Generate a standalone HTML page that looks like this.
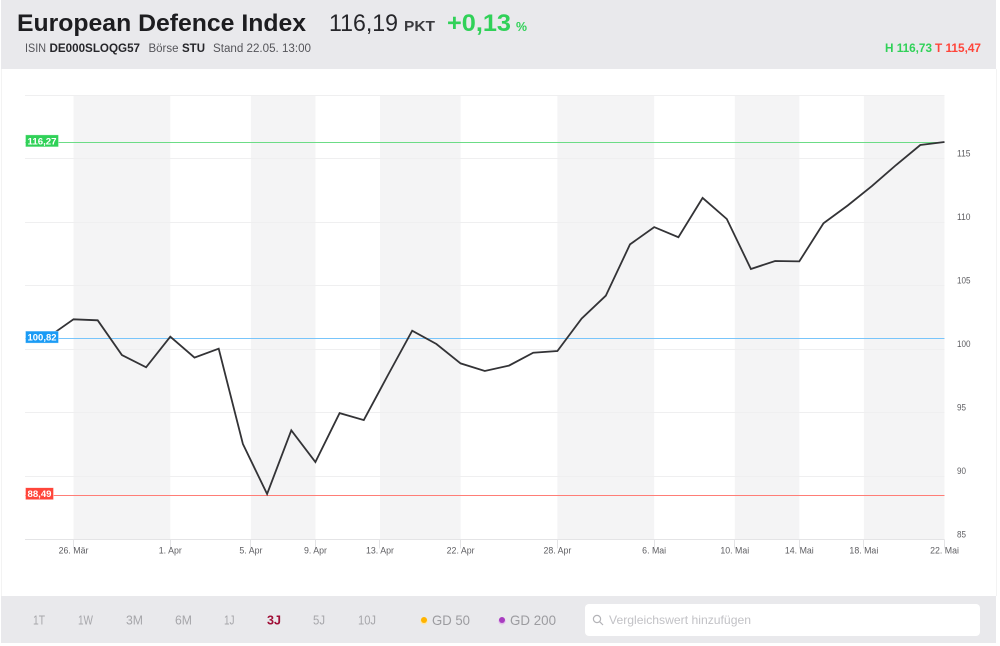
<!DOCTYPE html>
<html lang="de">
<head>
<meta charset="utf-8">
<title>European Defence Index</title>
<style>
html,body{margin:0;padding:0;background:#fff;width:1000px;height:646px;overflow:hidden}
svg{display:block;font-family:"Liberation Sans",sans-serif}
</style>
</head>
<body>
<svg id="root" width="1000" height="646" viewBox="0 0 1000 646">
  <rect x="1" y="0" width="996" height="646" fill="#fff" stroke="none"/>
  <line x1="1.5" y1="69" x2="1.5" y2="596" stroke="#f3f3f3"/>
  <line x1="996.5" y1="69" x2="996.5" y2="596" stroke="#f3f3f3"/>

  <g>
    <rect x="1" y="0" width="995" height="69" fill="#e9e9ec"/>
    <text x="17" y="31" font-size="24" font-weight="700" fill="#1d1d20" textLength="289" lengthAdjust="spacingAndGlyphs">European Defence Index</text>
    <text x="329" y="31" font-size="24" fill="#26262a" textLength="69" lengthAdjust="spacingAndGlyphs">116,19</text>
    <text x="404" y="31" font-size="15" font-weight="700" fill="#3a3a3e" textLength="31" lengthAdjust="spacingAndGlyphs">PKT</text>
    <text x="447" y="31" font-size="24" font-weight="700" fill="#30d158" textLength="64" lengthAdjust="spacingAndGlyphs">+0,13</text>
    <text x="516" y="31" font-size="13" font-weight="700" fill="#30d158" textLength="11" lengthAdjust="spacingAndGlyphs">%</text>

    <text x="25" y="52" font-size="11.5" fill="#55555a" textLength="21" lengthAdjust="spacingAndGlyphs">ISIN</text>
    <text x="49.5" y="52" font-size="11.5" font-weight="700" fill="#26262a" textLength="90.5" lengthAdjust="spacingAndGlyphs">DE000SLOQG57</text>
    <text x="148.5" y="52" font-size="11.5" fill="#55555a" textLength="30" lengthAdjust="spacingAndGlyphs">Börse</text>
    <text x="182" y="52" font-size="11.5" font-weight="700" fill="#26262a" textLength="23" lengthAdjust="spacingAndGlyphs">STU</text>
    <text x="213" y="52" font-size="11.5" fill="#55555a" textLength="98" lengthAdjust="spacingAndGlyphs">Stand 22.05. 13:00</text>

    <text x="885" y="52" font-size="11.5" font-weight="700" fill="#30d158" textLength="47" lengthAdjust="spacingAndGlyphs">H 116,73</text>
    <text x="935" y="52" font-size="11.5" font-weight="700" fill="#ff453a" textLength="46" lengthAdjust="spacingAndGlyphs">T 115,47</text>
  </g>

  <g id="plot"></g>

  <g>
    <rect x="1" y="596" width="995" height="47" fill="#e9e9ec"/>
    <g font-size="13" fill="#a6a6aa">
      <text x="33" y="624.5" textLength="12" lengthAdjust="spacingAndGlyphs">1T</text>
      <text x="78" y="624.5" textLength="15" lengthAdjust="spacingAndGlyphs">1W</text>
      <text x="126" y="624.5" textLength="17" lengthAdjust="spacingAndGlyphs">3M</text>
      <text x="175" y="624.5" textLength="17" lengthAdjust="spacingAndGlyphs">6M</text>
      <text x="224" y="624.5" textLength="10.5" lengthAdjust="spacingAndGlyphs">1J</text>
      <text x="267" y="624.5" font-weight="700" fill="#a00f37" textLength="14" lengthAdjust="spacingAndGlyphs">3J</text>
      <text x="313" y="624.5" textLength="12" lengthAdjust="spacingAndGlyphs">5J</text>
      <text x="358" y="624.5" textLength="18" lengthAdjust="spacingAndGlyphs">10J</text>
    </g>
    <g>
      <circle cx="424" cy="621" r="3.6" fill="#ffe6a8"/>
      <circle cx="424" cy="620" r="3" fill="#ffb400"/>
      <text x="432" y="625" font-size="14" fill="#9c9ca0" textLength="38" lengthAdjust="spacingAndGlyphs">GD 50</text>
    </g>
    <g>
      <circle cx="502" cy="621" r="3.6" fill="#e2bdea"/>
      <circle cx="502" cy="620" r="3" fill="#a83cc0"/>
      <text x="510" y="625" font-size="14" fill="#9c9ca0" textLength="46" lengthAdjust="spacingAndGlyphs">GD 200</text>
    </g>
    <g>
      <rect x="585" y="604" width="395" height="32" rx="4" fill="#fff"/>
      <g fill="none" stroke="#b4b4b8" stroke-width="1.2">
        <circle cx="597" cy="619" r="3.6"/>
        <line x1="599.7" y1="621.7" x2="603" y2="625"/>
      </g>
      <text x="609" y="624" font-size="12" fill="#c2c2c6" textLength="142" lengthAdjust="spacingAndGlyphs">Vergleichswert hinzufügen</text>
    </g>
  </g>
</svg>
<script>
var closeValues = [101.0,102.34,102.26,99.53,98.56,100.97,99.32,100.02,92.52,88.58,93.6,91.1,94.95,94.4,97.95,101.44,100.39,98.87,98.27,98.69,99.71,99.84,102.39,104.2,108.24,109.6,108.8,111.9,110.24,106.3,106.93,106.9,109.9,111.3,112.83,114.49,116.06,116.3];
var dateLabels = ['26. Mär','1. Apr','5. Apr','9. Apr','13. Apr','22. Apr','28. Apr','6. Mai','10. Mai','14. Mai','18. Mai','22. Mai'];
var dateSlots = [0,6,11,15,19,24,30,36,41,45,49,54];
var yTickValues = [85,90,95,100,105,110,115];
var yTickLabels = ['85','90','95','100','105','110','115'];
var yGridTop = 120;
var levelValues = [116.27,100.82,88.49];
var levelLabels = ['116,27','100,82','88,49'];
var levelNames = ['high','mid','low'];
var slotsPerPoint = 1.5;

var NS = 'http://www.w3.org/2000/svg';
var plot = document.getElementById('plot');
function xSlot(s){ return 73.5 + s * (944.5 - 73.5) / 54; }
function xPoint(i){ return xSlot((i - 1) * slotsPerPoint); }
function yVal(v){ return 349 - (v - 100) * 12.7; }
function crisp(p){ return Math.floor(p) + 0.5; }
function make(tag, attrs){
  var el = document.createElementNS(NS, tag);
  for (var k in attrs) el.setAttribute(k, attrs[k]);
  plot.appendChild(el);
  return el;
}

var bandTop = 95, plotBottom = yVal(85);
var i, el;

for (i = 0; i + 1 < dateSlots.length; i += 2) {
  el = make('rect', {x: xSlot(dateSlots[i]), y: bandTop, width: xSlot(dateSlots[i+1]) - xSlot(dateSlots[i]), height: plotBottom - bandTop, fill: '#f4f4f5'});
  
  
}

el = make('line', {x1: 25, x2: 944.5, y1: crisp(yVal(yGridTop)), y2: crisp(yVal(yGridTop)), stroke: '#efeff0'});



for (i = 0; i < yTickValues.length; i++) {
  var gy = crisp(yVal(yTickValues[i]));
  el = make('line', {x1: 25, x2: 944.5, y1: gy, y2: gy, stroke: yTickValues[i] === 85 ? '#e4e4e6' : '#efeff0'});
  
  
  var lab = yTickLabels[i];
  el = make('text', {x: 957, y: yVal(yTickValues[i]) - 2, 'font-size': 9.5, fill: '#5e5e62', textLength: lab.length === 3 ? 13.5 : 9, lengthAdjust: 'spacingAndGlyphs'});
  el.textContent = lab;
  
  
}

for (i = 0; i < dateSlots.length; i++) {
  var tx = crisp(xSlot(dateSlots[i]));
  el = make('line', {x1: tx, x2: tx, y1: plotBottom, y2: plotBottom + 9, stroke: '#e4e4e6'});
  
  
  el = make('text', {x: xSlot(dateSlots[i]), y: plotBottom + 14, 'font-size': 8.8, fill: '#5e5e62', 'text-anchor': 'middle'});
  el.textContent = dateLabels[i];
  
  
}

var levelLine = ['#6cdc86','#78c5fb','#ff7d76'];
var levelFill = ['#30d158','#1a9bf5','#ff453a'];
for (i = 0; i < levelValues.length; i++) {
  var ly = crisp(yVal(levelValues[i]));
  el = make('line', {x1: 25, x2: 944.5, y1: ly, y2: ly, stroke: levelLine[i]});
  
  
}

var pts = [];
for (i = 0; i < closeValues.length; i++) {
  pts.push(xPoint(i).toFixed(1) + ',' + yVal(closeValues[i]).toFixed(1));
}
el = make('polyline', {points: pts.join(' '), fill: 'none', stroke: '#333336', 'stroke-width': 1.8, 'stroke-linejoin': 'miter'});



for (i = 0; i < levelValues.length; i++) {
  var w = levelLabels[i].length === 6 ? 33 : 28;
  var cy = yVal(levelValues[i]) - 1.5;
  el = make('rect', {x: 25.5, y: cy - 6, width: w, height: 12, fill: levelFill[i], stroke: '#fff', 'stroke-opacity': 0.6, 'stroke-width': 0.6});
  
  
  el = make('text', {x: 27.5, y: cy + 3.5, 'font-size': 9.6, 'font-weight': 700, fill: '#fff', textLength: w - 4, lengthAdjust: 'spacingAndGlyphs'});
  el.textContent = levelLabels[i];
  
  
}
</script>
</body>
</html>
